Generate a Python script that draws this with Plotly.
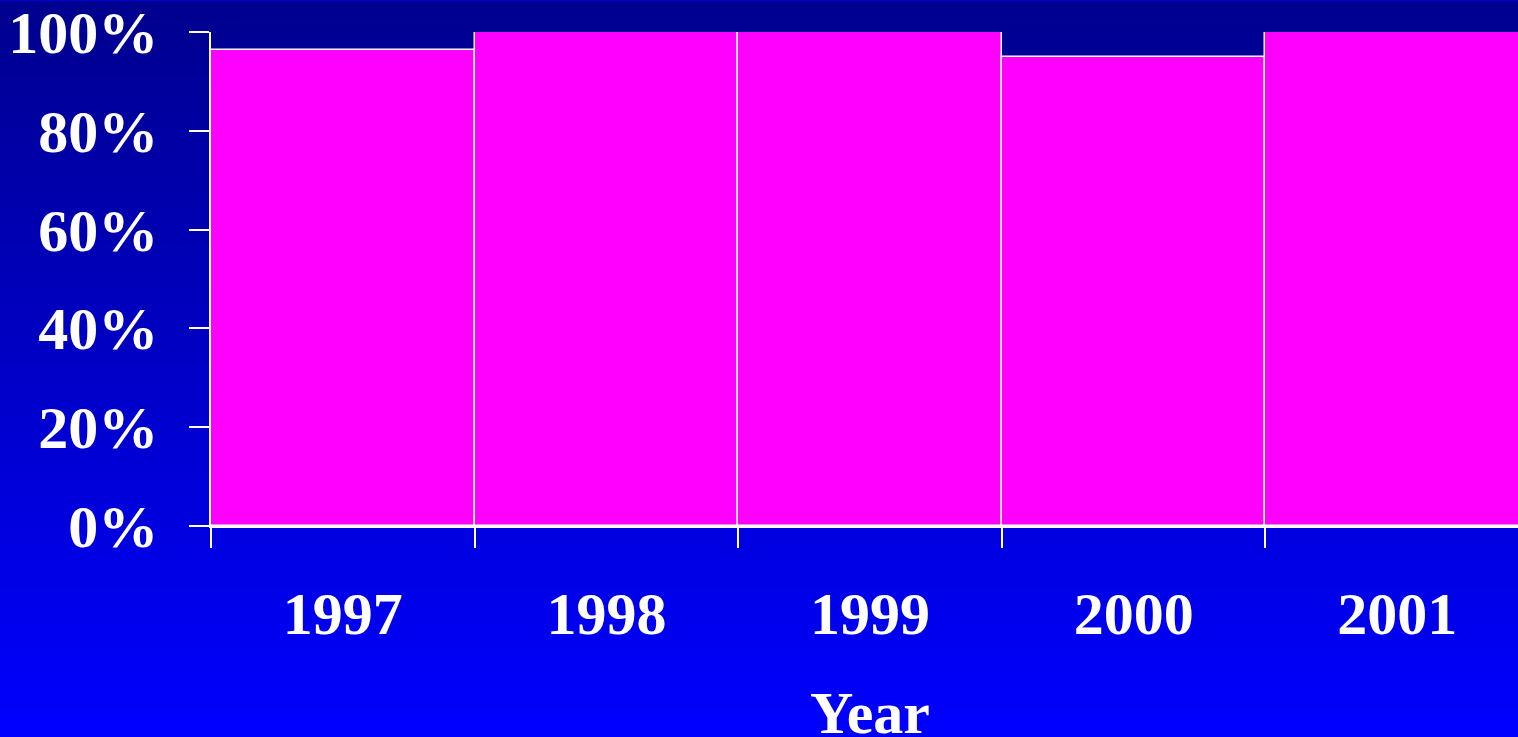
import plotly.graph_objects as go

# Share of responses per year (percent)
years = ["1997", "1998", "1999", "2000", "2001"]
share_pct = [96.4, 100, 100, 95, 100]
y_ticks = [0, 20, 40, 60, 80, 100]

W, H = 1518, 737
M_L, M_T, M_B, M_R = 211, 30, 211, 0
PLOT_H = H - M_T - M_B

font_main = dict(family="Liberation Serif, Times New Roman, serif", size=60,
                 color="white", weight="bold")

fig = go.Figure()
fig.add_trace(go.Bar(
    x=years,
    y=share_pct,
    marker=dict(color="#FF00FF", line=dict(color="white", width=1.5)),
    width=1.0,
    hoverinfo="x+y",
))

# vertical background gradient, dark navy at top to bright blue at bottom
n_strips = 160
top_rgb, bot_rgb = (0, 0, 142), (0, 0, 255)
shapes = []
for i in range(n_strips):
    t = (i + 0.5) / n_strips
    b = round(top_rgb[2] + (bot_rgb[2] - top_rgb[2]) * t)
    py_top = H * i / n_strips
    py_bot = H * (i + 1) / n_strips
    shapes.append(dict(
        type="rect", xref="paper", yref="paper", layer="below",
        x0=-0.2, x1=1.2,
        y0=(H - M_B - py_bot) / PLOT_H - 0.002,
        y1=(H - M_B - py_top) / PLOT_H + 0.002,
        fillcolor=f"rgb(0,0,{b})", line=dict(width=0),
    ))

fig.update_layout(
    width=W, height=H,
    margin=dict(l=M_L, r=M_R, t=M_T, b=M_B, pad=0),
    paper_bgcolor="rgb(0,0,200)",
    plot_bgcolor="rgba(0,0,0,0)",
    bargap=0,
    showlegend=False,
    shapes=shapes,
    font=font_main,
    xaxis=dict(
        type="category",
        range=[-0.5, 4.458],
        showgrid=False, zeroline=False,
        showline=True, linecolor="white", linewidth=1.5,
        ticks="outside", tickson="boundaries", ticklen=20,
        tickcolor="white", tickwidth=1.5,
        tickfont=font_main,
        ticklabelstandoff=34,
        ticklabeloverflow="allow",
    ),
    yaxis=dict(
        range=[0, 100.0001],
        tickvals=y_ticks,
        ticktext=[f"{v}%" for v in y_ticks],
        showgrid=False, zeroline=False,
        showline=True, linecolor="white", linewidth=1.5,
        ticks="outside", ticklen=20, tickcolor="white", tickwidth=1.5,
        tickfont=font_main,
        ticklabelstandoff=19,
        ticklabeloverflow="allow",
    ),
    annotations=[dict(
        text="Year", xref="paper", yref="paper",
        x=(870 - M_L) / (W - M_L - M_R), y=-(679 - (H - M_B)) / PLOT_H,
        xanchor="center", yanchor="top", showarrow=False,
        font=font_main,
    )],
)

fig.write_html("out.html")
